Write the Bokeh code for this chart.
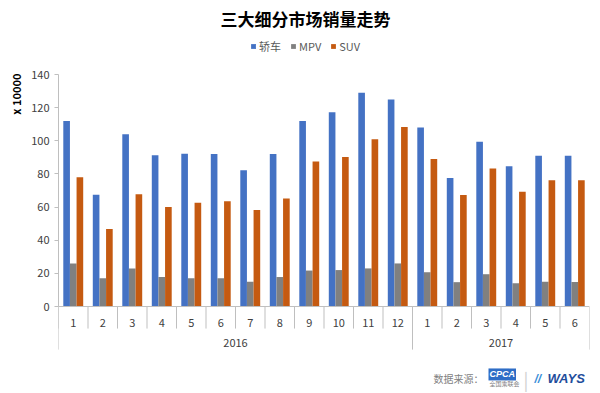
from bokeh.plotting import figure
from bokeh.models import (FactorRange, Range1d, ColumnDataSource, FixedTicker, Span,
                          Legend, LegendItem, Title, Label)
from bokeh.transform import dodge
from bokeh.core.properties import value
from bokeh.embed import file_html
from bokeh.resources import INLINE

# ---- data ----
years = ["2016"] * 12 + ["2017"] * 6
months = ["1", "2", "3", "4", "5", "6", "7", "8", "9", "10", "11", "12",
          "1", "2", "3", "4", "5", "6"]
sedan = [112, 67.5, 104, 91.3, 92.2, 92, 82.3, 92, 112, 117.3, 129, 125,
         108, 77.5, 99.4, 84.7, 91, 91]
mpv = [26, 17, 23, 17.8, 17, 17, 15, 17.8, 21.7, 22, 23, 26,
       20.7, 14.7, 19.5, 14, 15, 14.8]
suv = [78, 46.8, 67.8, 60, 62.7, 63.5, 58.3, 65.2, 87.6, 90.3, 101, 108.3,
       89, 67.3, 83.3, 69.3, 76.2, 76.2]
series_names = ["轿车", "MPV", "SUV"]
y_ticks = [0, 20, 40, 60, 80, 100, 120, 140]
year_labels = ["2016", "2017"]
title_text = "三大细分市场销量走势"
unit_text = "x 10000"
source_text = "数据来源："

FONT = "Noto Sans CJK SC"
BLUE, GRAY, ORANGE = "#4472C4", "#808080", "#C55A11"
AXIS = "#BFBFBF"
TXT = "#404040"

factors = list(zip(years, months))
xr = FactorRange(factors=factors, factor_padding=0, group_padding=0, range_padding=0)

p = figure(x_range=xr, y_range=Range1d(-52.5, 166.6), width=600, height=393,
           output_backend="svg", toolbar_location=None, x_axis_location=None,
           min_border_left=58, min_border_right=11, min_border_top=30, min_border_bottom=0)
p.outline_line_color = None
p.ygrid.grid_line_color = None
p.xgrid.grid_line_color = None
p.background_fill_color = "white"
p.border_fill_color = "white"

# title
p.title.text = title_text
p.title.text_font = FONT
p.title.text_font_size = "17px"
p.title.text_font_style = "bold"
p.title.text_color = "#000000"
p.title.align = "left"
p.title.offset = 162
p.title.standoff = 0

# y axis
ya = p.yaxis[0]
ya.bounds = (0, 140)
ya.ticker = FixedTicker(ticks=y_ticks)
ya.axis_line_color = AXIS
ya.major_tick_line_color = AXIS
ya.major_tick_out = 4
ya.major_tick_in = 0
ya.minor_tick_line_color = None
ya.major_label_text_font = FONT
ya.major_label_text_font_size = "11px"
ya.major_label_text_color = TXT
ya.major_label_standoff = 5

p.add_layout(Title(text=unit_text, align="right", text_font=FONT, text_font_size="11px",
                   text_font_style="bold", text_color="#000000", offset=43), "left")

src = ColumnDataSource(dict(x=factors, sedan=sedan, mpv=mpv, suv=suv, month=months))

r1 = p.vbar(x=dodge("x", -0.225, range=xr), top="sedan", width=0.225, source=src,
            fill_color=BLUE, line_color=None)
r2 = p.vbar(x=dodge("x", 0.0, range=xr), top="mpv", width=0.225, source=src,
            fill_color=GRAY, line_color=None)
r3 = p.vbar(x=dodge("x", 0.225, range=xr), top="suv", width=0.225, source=src,
            fill_color=ORANGE, line_color=None)

# baseline
p.add_layout(Span(location=0, dimension="width", line_color=AXIS, line_width=1))

# category separators (Excel style multi-level axis)
p.segment(x0=dodge("x", -0.5, range=xr), x1=dodge("x", -0.5, range=xr), y0=0, y1=-13.3,
          source=src, line_color=AXIS, line_width=1)
first_of_year = [f for f in factors if f[1] == "1"]
ysrc = ColumnDataSource(dict(x=first_of_year))
p.segment(x0=dodge("x", -0.5, range=xr), x1=dodge("x", -0.5, range=xr), y0=0, y1=-26,
          source=ysrc, line_color=AXIS, line_width=1)
esrc = ColumnDataSource(dict(x=[factors[-1]]))
p.segment(x0=dodge("x", 0.5, range=xr), x1=dodge("x", 0.5, range=xr), y0=0, y1=-26,
          source=esrc, line_color=AXIS, line_width=1)

p.text(x="x", y=-9.7, text="month", source=src, text_align="center", text_baseline="middle",
       text_font=value(FONT), text_font_size="11px", text_color=TXT)
p.text(x=year_labels, y=[-22.3] * len(year_labels), text=year_labels, text_align="center",
       text_baseline="middle", text_font=value(FONT), text_font_size="11px", text_color=TXT)

legend = Legend(items=[LegendItem(label=series_names[0], renderers=[r1]),
                       LegendItem(label=series_names[1], renderers=[r2]),
                       LegendItem(label=series_names[2], renderers=[r3])],
                orientation="horizontal", location=(192, 339), padding=0, margin=0,
                spacing=9, glyph_width=6, glyph_height=6, label_standoff=3,
                label_height=12, label_text_font=FONT, label_text_font_size="11px",
                label_text_color="#595959", border_line_color=None,
                background_fill_alpha=0)
p.add_layout(legend)

# footer
p.add_layout(Label(x=375, y=-43.5, x_units="screen", y_units="data", text=source_text,
                   text_font=FONT, text_font_size="10px", text_color="#7F7F7F",
                   text_baseline="middle"))
p.add_layout(Label(x=430, y=-41, x_units="screen", y_units="data", text="CPCA",
                   text_font="Liberation Sans", text_font_size="9px", text_font_style="bold italic",
                   text_color="white", background_fill_color="#2E6DC6", text_baseline="middle",
                   padding=1))
p.add_layout(Label(x=431, y=-46.3, x_units="screen", y_units="data", text="全国乘联会",
                   text_font=FONT, text_font_size="6px", text_color="#7F7F7F",
                   text_baseline="middle"))
p.add_layout(Label(x=465, y=-43.5, x_units="screen", y_units="data", text="|",
                   text_font=FONT, text_font_size="18px", text_color="#D0D0D0",
                   text_baseline="middle"))
p.add_layout(Label(x=476, y=-43.5, x_units="screen", y_units="data", text="//",
                   text_font="Liberation Sans", text_font_size="12px",
                   text_font_style="bold italic", text_color="#3A8FD8", text_baseline="middle"))
p.add_layout(Label(x=489, y=-43.5, x_units="screen", y_units="data", text="WAYS",
                   text_font="Liberation Sans", text_font_size="13px",
                   text_font_style="bold italic", text_color="#1F4E9C", text_baseline="middle"))

open("out.html", "w").write(file_html(p, INLINE))
